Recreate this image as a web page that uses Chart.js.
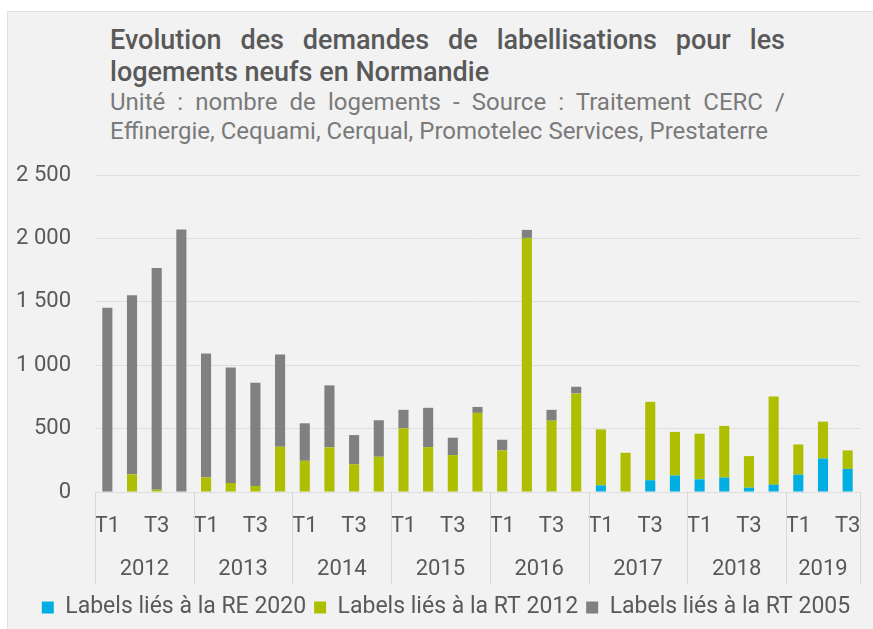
<!DOCTYPE html>
<html lang="fr">
<head>
  <meta charset="UTF-8">
  <title>Evolution des demandes de labellisations</title>
  <script src="https://cdn.jsdelivr.net/npm/chart.js"></script>
  <style>
    html, body {
      margin: 0;
      padding: 0;
      width: 873px;
      height: 629px;
      background: #ffffff;
      overflow: hidden;
      font-family: Roboto, "Noto Sans", sans-serif;
    }

    /* grey panel behind the chart */
    #panel {
      position: absolute;
      left: 7px;
      top: 11px;
      right: 0;
      bottom: 0;
      background: #f2f2f2;
      border-top: 1px solid #e1e1e1;
      border-left: 1px solid #e1e1e1;
    }

    #heading {
      position: absolute;
      left: 110px;
      top: 24px;
      width: 675px;
    }

    .line {
      white-space: nowrap;
    }

    .just {
      text-align: justify;
      text-align-last: justify;
      white-space: normal;
    }

    .title {
      font-size: 27px;
      font-weight: 500;
      color: #595959;
      line-height: 32px;
    }

    .sub {
      font-size: 24px;
      color: #7a7a7a;
      line-height: 29px;
    }

    .chart-container {
      position: absolute;
      left: 0;
      top: 0;
      width: 873px;
      height: 629px;
    }
  </style>
</head>
<body>
  <div id="panel"></div>

  <div id="heading">
    <div class="line just title">Evolution des demandes de labellisations pour les</div>
    <div class="line title">logements neufs en Normandie</div>
    <div class="line just sub">Unité : nombre de logements - Source : Traitement CERC /</div>
    <div class="line sub">Effinergie, Cequami, Cerqual, Promotelec Services, Prestaterre</div>
  </div>

  <div class="chart-container">
    <canvas id="myChart"></canvas>
  </div>

  <script>
    // years and number of quarters shown for each
    const years = ['2012', '2013', '2014', '2015', '2016', '2017', '2018', '2019'];
    const quartersPerYear = [4, 4, 4, 4, 4, 4, 4, 3];
    const quarterNames = ['T1', 'T2', 'T3', 'T4'];

    // values per quarter, 2012 T1 -> 2019 T3
    const re2020 = [0, 0, 0, 0, 0, 0, 0, 0, 0, 0, 0, 0, 0, 0, 0, 0,
                    0, 0, 0, 0, 52, 0, 93, 130, 100, 114, 34, 58, 137, 264, 182];
    const rt2012 = [0, 140, 18, 0, 116, 71, 48, 357, 246, 352, 219, 278, 502, 354, 291, 624,
                    328, 2004, 563, 777, 442, 309, 618, 344, 360, 407, 249, 695, 238, 291, 146];
    const rt2005 = [1454, 1412, 1748, 2070, 976, 910, 814, 727, 296, 489, 230, 288, 146, 310, 137, 47,
                    84, 63, 85, 53, 0, 0, 0, 0, 0, 0, 0, 0, 0, 0, 0];

    const seriesNames = ['Labels liés à la RE 2020', 'Labels liés à la RT 2012', 'Labels liés à la RT 2005'];
    const seriesColors = ['#00aee2', '#adbf00', '#808080'];

    // build the quarter labels and the year groups (start index, end index)
    const labels = [];
    const groups = [];
    years.forEach((y, i) => {
      const start = labels.length;
      for (let q = 0; q < quartersPerYear[i]; q++) labels.push(quarterNames[q]);
      groups.push({ year: y, start: start, end: labels.length - 1 });
    });

    const textColor = '#595959';
    const tickFont = { family: 'Roboto', size: 22 };

    // draws the light separators between the year groups under the axis
    const yearSeparators = {
      id: 'yearSeparators',
      afterLayout(chart) {
        // legend sits a little right of centre in the original
        chart.legend.left += 16;
        chart.legend.right += 16;
      },
      afterDraw(chart) {
        const ctx = chart.ctx;
        const x = chart.scales.x;
        const yr = chart.scales.year;
        ctx.save();
        ctx.strokeStyle = '#d9d9d9';
        ctx.lineWidth = 1;
        const bounds = [groups[0].start - 0.5].concat(groups.map(g => g.end + 0.5));
        bounds.forEach(b => {
          const px = Math.round(x.getPixelForValue(b)) + 0.5;
          ctx.beginPath();
          ctx.moveTo(px, chart.chartArea.bottom);
          ctx.lineTo(px, yr.bottom - 4);
          ctx.stroke();
        });
        ctx.restore();
      }
    };

    const ctx = document.getElementById('myChart').getContext('2d');
    const chart = new Chart(ctx, {
      type: 'bar',
      data: {
        labels: labels,
        datasets: [
          { label: seriesNames[0], data: re2020, backgroundColor: seriesColors[0] },
          { label: seriesNames[1], data: rt2012, backgroundColor: seriesColors[1] },
          { label: seriesNames[2], data: rt2005, backgroundColor: seriesColors[2] }
        ]
      },
      options: {
        responsive: true,
        maintainAspectRatio: false,
        animation: false,
        datasets: {
          bar: {
            barPercentage: 0.41,
            categoryPercentage: 1.0
          }
        },
        layout: {
          padding: { top: 175, right: 13, left: 0, bottom: 0 }
        },
        plugins: {
          legend: {
            position: 'bottom',
            labels: {
              color: textColor,
              font: { family: 'Roboto', size: 23 },
              boxWidth: 12,
              boxHeight: 12,
              padding: 8
            }
          },
          tooltip: { enabled: false }
        },
        scales: {
          x: {
            stacked: true,
            grid: { display: false, drawTicks: false },
            border: { display: false },
            ticks: {
              autoSkip: false,
              maxRotation: 0,
              color: textColor,
              font: tickFont,
              padding: 21,
              callback: function (value) {
                const l = this.getLabelForValue(value);
                return (l === 'T1' || l === 'T3') ? l : '';
              }
            },
            afterFit: s => {
              s.height = 55;
              s.paddingLeft = 0;
              s.paddingRight = 0;
            }
          },
          year: {
            type: 'linear',
            position: 'bottom',
            bounds: 'data',
            offset: false,
            min: -0.5,
            max: labels.length - 0.5,
            grid: { display: false, drawTicks: false },
            border: { display: false },
            afterBuildTicks: s => {
              s.ticks = groups.map(g => ({ value: (g.start + g.end) / 2 }));
            },
            ticks: {
              color: textColor,
              font: tickFont,
              padding: 9,
              maxRotation: 0,
              autoSkip: false,
              callback: value => {
                const g = groups.find(gr => (gr.start + gr.end) / 2 === value);
                return g ? g.year : '';
              }
            },
            afterFit: s => {
              s.height = 41;
              s.paddingLeft = 0;
              s.paddingRight = 0;
            }
          },
          y: {
            stacked: true,
            min: 0,
            max: 2500,
            border: { display: false },
            grid: { color: '#dedede', lineWidth: 1, drawTicks: false },
            ticks: {
              stepSize: 500,
              color: textColor,
              font: tickFont,
              padding: 24,
              callback: v => v.toLocaleString('fr-FR').replace(/\s/g, ' ')
            },
            afterFit: s => { s.width = 95; }
          }
        }
      },
      plugins: [yearSeparators]
    });
  </script>
</body>
</html>
